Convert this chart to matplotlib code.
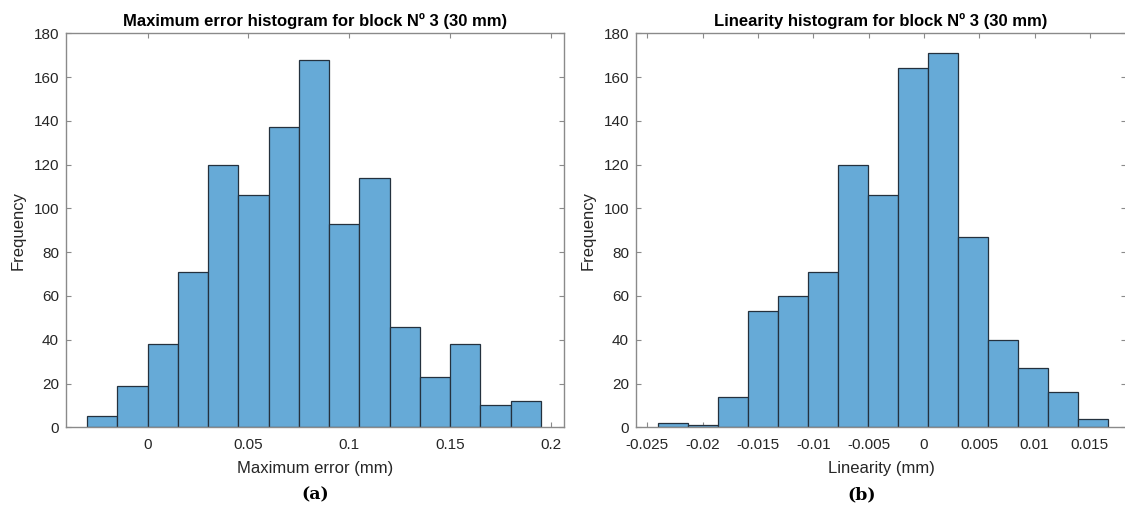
import numpy as np
import matplotlib.pyplot as plt

plt.rcParams['font.family'] = ['Liberation Sans', 'DejaVu Sans']

# bin edges and counts of the two histograms
err_edges = [-0.03, -0.015, 0.0, 0.015, 0.03, 0.045, 0.06, 0.075, 0.09,
             0.105, 0.12, 0.135, 0.15, 0.165, 0.18, 0.195]
err_counts = [5, 19, 38, 71, 120, 106, 137, 168, 93, 114, 46, 23, 38, 10, 12]

lin_edges = [-0.02403, -0.02132, -0.01861, -0.01590, -0.01319, -0.01048,
             -0.00777, -0.00505, -0.00234, 0.00037, 0.00308, 0.00579,
             0.00850, 0.01121, 0.01392, 0.01663]
lin_counts = [2, 1, 14, 53, 60, 71, 120, 106, 164, 171, 87, 40, 27, 16, 4]

err_ticks = [0, 0.05, 0.1, 0.15, 0.2]
err_ticklabels = ['0', '0.05', '0.1', '0.15', '0.2']
lin_ticks = [-0.025, -0.02, -0.015, -0.01, -0.005, 0, 0.005, 0.01, 0.015]
lin_ticklabels = ['-0.025', '-0.02', '-0.015', '-0.01', '-0.005', '0',
                  '0.005', '0.01', '0.015']
freq_ticks = list(range(0, 181, 20))

TXT = '#262626'
SPINE = '#8a8a8a'
FILL = '#66aad7'
EDGE = '#24313e'


def draw_hist(ax, edges, counts, xlim, xticks, xticklabels, title, xlabel):
    edges = np.asarray(edges)
    ax.bar(edges[:-1], counts, width=np.diff(edges), align='edge',
           color=FILL, edgecolor=EDGE, linewidth=0.9, zorder=2)
    ax.set_xlim(*xlim)
    ax.set_ylim(0, 180)
    ax.set_xticks(xticks)
    ax.set_xticklabels(xticklabels)
    ax.set_yticks(freq_ticks)
    ax.tick_params(direction='in', length=3.5, width=0.8, color=SPINE,
                   labelcolor=TXT, labelsize=11, top=True, right=True)
    ax.tick_params(axis='x', pad=8)
    ax.tick_params(axis='y', pad=5)
    for s in ax.spines.values():
        s.set_color(SPINE)
        s.set_linewidth(1.0)
    ax.set_title(title, fontsize=12, fontweight='bold', color='black', pad=5)
    ax.set_xlabel(xlabel, fontsize=12, color=TXT, labelpad=6)
    ax.set_ylabel('Frequency', fontsize=12, color=TXT, labelpad=6)


fig = plt.figure(figsize=(11.25, 5.12), dpi=100)
ax1 = fig.add_axes([0.0587, 0.1654, 0.4426, 0.7696])
ax2 = fig.add_axes([0.5653, 0.1654, 0.4356, 0.7696])

draw_hist(ax1, err_edges, err_counts, (-0.0405, 0.2065), err_ticks,
          err_ticklabels, 'Maximum error histogram for block Nº 3 (30 mm)',
          'Maximum error (mm)')
draw_hist(ax2, lin_edges, lin_counts, (-0.02603, 0.01827), lin_ticks,
          lin_ticklabels, 'Linearity histogram for block Nº 3 (30 mm)',
          'Linearity (mm)')

# panel captions
fig.text(315 / 1125, 1 - 495 / 512, '(a)', ha='center', va='center',
         fontsize=12.5, fontweight='bold', family='DejaVu Serif', color='black')
fig.text(862 / 1125, 1 - 495 / 512, '(b)', ha='center', va='center',
         fontsize=12.5, fontweight='bold', family='DejaVu Serif', color='black')

fig.savefig('out.png', dpi=100)
